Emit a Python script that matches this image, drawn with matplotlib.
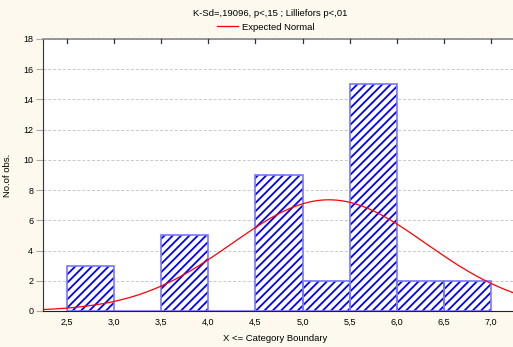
import numpy as np
import matplotlib
matplotlib.use("Agg")
import matplotlib.pyplot as plt

# Data
bin_edges = [2.5, 3.0, 3.5, 4.0, 4.5, 5.0, 5.5, 6.0, 6.5, 7.0]
counts = [3, 0, 5, 0, 9, 2, 15, 2, 2]
tick_labels = ["2,5", "3,0", "3,5", "4,0", "4,5", "5,0", "5,5", "6,0", "6,5", "7,0"]
y_ticks = [0, 2, 4, 6, 8, 10, 12, 14, 16, 18]
n_obs = 38
norm_mean = 5.28
norm_sd = 1.03

plt.rcParams['font.family'] = ['Liberation Sans', 'DejaVu Sans']
plt.rcParams['hatch.linewidth'] = 1.3
plt.rcParams['hatch.color'] = '#0000ff'

fig = plt.figure(figsize=(5.13, 3.47), dpi=100, facecolor='#fdf9ee')
ax = fig.add_axes([43/513, 1 - 311/347, 1 - 43/513, (311 - 39)/347])
ax.set_facecolor('white')

lefts = np.array(bin_edges[:-1])
widths = np.diff(bin_edges)
ax.bar(lefts, counts, width=widths, align='edge', facecolor='white',
       edgecolor='#0000ff', hatch='////', linewidth=0, zorder=2)
ax.bar(lefts, counts, width=widths, align='edge', facecolor='none',
       edgecolor='#7777ff', linewidth=1.2, zorder=3)

binw = bin_edges[1] - bin_edges[0]
xs = np.linspace(2.24, 7.24, 400)
ys = n_obs * binw / (norm_sd * np.sqrt(2 * np.pi)) * np.exp(-0.5 * ((xs - norm_mean) / norm_sd) ** 2)
line, = ax.plot(xs, ys, color='#ff0000', lw=0.9, zorder=4, label='Expected Normal')

ax.set_xlim(2.245, 7.234)
ax.set_ylim(0, 18)
ax.set_yticks(y_ticks)
ax.set_yticklabels([str(v) for v in y_ticks], fontsize=6.5)
ax.set_xticks(bin_edges)
ax.set_xticklabels(tick_labels, fontsize=6.5)
ax.tick_params(axis='y', length=5, color='#aaaaaa', pad=2)
ax.tick_params(axis='x', length=0, pad=5)
for v in bin_edges:
    ax.plot([v, v], [18, 17.75], color='#333333', lw=0.9, zorder=5, clip_on=False)

ax.yaxis.grid(True, color='#c8c8c8', linestyle=(0, (3, 2)), lw=0.7)
ax.set_axisbelow(True)
ax.spines['right'].set_visible(False)
ax.spines['left'].set_color('#333333')
ax.spines['bottom'].set_color('#222222')
ax.spines['top'].set_color('#888888')
ax.spines['top'].set_linewidth(1.2)

ax.set_xlabel('X <= Category Boundary', fontsize=6.8)
ax.xaxis.set_label_coords((275 - 43) / 470, -(334 - 311) / 272)
ax.set_ylabel('No.of obs.', fontsize=6.8)
ax.yaxis.set_label_coords((12 - 43) / 470, 0.5)

fig.text(270/513, 1 - 14/347, 'K-Sd=,19096, p<,15 ; Lilliefors p<,01', ha='center', va='center', fontsize=6.8)
fig.legend(handles=[line], loc='center', bbox_to_anchor=(266/513, 1 - 27/347), frameon=False,
           fontsize=6.8, handlelength=2.2, handletextpad=0.4, borderpad=0)

fig.savefig('out.png', dpi=100, facecolor=fig.get_facecolor())
